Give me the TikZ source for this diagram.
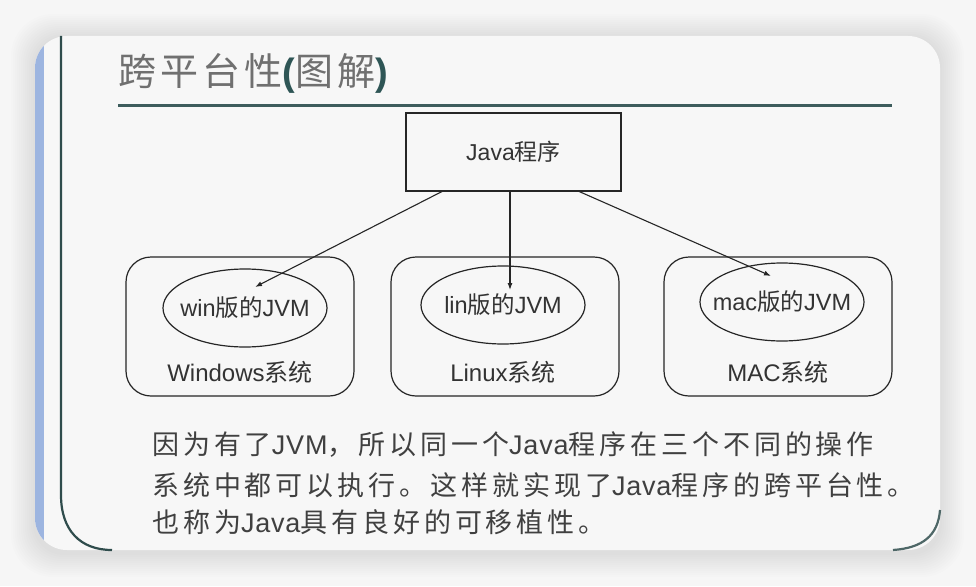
\documentclass[tikz,border=0pt]{standalone}
\usepackage{fontspec}
\setmainfont{Liberation Sans}
\newfontfamily\cjk{Noto Sans CJK SC}
\newfontfamily\cjkbody[LetterSpace=14.5]{Noto Sans CJK SC}
\newfontfamily\latbody[LetterSpace=3]{Liberation Sans}
\newfontfamily\cjktitle[LetterSpace=11]{Noto Sans CJK SC}
\newfontfamily\latin{Liberation Sans}
\usetikzlibrary{shapes.geometric,arrows.meta}
\definecolor{bgcol}{HTML}{F6F6F6}
\definecolor{cardcol}{HTML}{F7F7F7}
\definecolor{stripcol}{HTML}{9DB5E0}
\definecolor{edgecol}{HTML}{2F4C4C}
\definecolor{rulecol}{HTML}{3D5C5C}
\definecolor{titlecol}{HTML}{707070}
\definecolor{parcol}{HTML}{2E5555}
\definecolor{linecol}{HTML}{262626}
\definecolor{textcol}{HTML}{333333}
\definecolor{bodycol}{HTML}{404040}
\newcommand{\zh}[1]{{\cjk #1}}
\newcommand{\zb}[1]{{\cjkbody #1}}
\tikzset{
  progbox/.style={draw=linecol, line width=1.2pt, minimum width=215pt, minimum height=78pt, inner sep=0pt, text=textcol, font=\fontsize{23}{26}\selectfont},
  osbox/.style={draw=linecol, line width=1.2pt, rounded corners=25pt, minimum width=228pt, minimum height=139pt, inner sep=0pt},
  jvm/.style={draw=linecol, line width=1.2pt, ellipse, minimum width=164pt, minimum height=78pt, inner sep=0pt, text=textcol, font=\fontsize{23.5}{26}\selectfont},
  oslabel/.style={inner sep=0pt, text=textcol, font=\fontsize{24}{27}\selectfont},
  bodyline/.style={anchor=west, inner sep=0pt, text=bodycol, font=\fontsize{27}{31}\selectfont\latbody},
  arr/.style={draw=linecol, line width=1.1pt, -{Latex[length=7pt,width=5pt]}},
}
\begin{document}
\begin{tikzpicture}[x=1pt,y=-1pt]
\useasboundingbox (0,0) rectangle (976,586);
\fill[bgcol] (0,0) rectangle (976,586);
% shadow
\foreach \i in {1,...,12}{
  \fill[black, opacity=0.007, rounded corners={30pt+\i pt}] (35-2*\i,36-2*\i+2) rectangle (940+2*\i,550+2*\i+3);
}
% card
\fill[cardcol, rounded corners=32pt] (35,36) rectangle (940,550);
\begin{scope}
  \clip[rounded corners=32pt] (35,36) rectangle (940,550);
  \fill[stripcol] (35,36) rectangle (44,550);
\end{scope}
\draw[edgecol, line width=2.2pt] (61,36) -- (61,495) .. controls (61,530) and (80,550) .. (112,550);
\draw[edgecol!85, line width=2.2pt] (940,510) .. controls (938,536) and (922,548) .. (893,550);
% title
\node[anchor=west, inner sep=0pt, text=titlecol, font=\fontsize{38}{42}\selectfont] (title) at (118,73)
  {\cjktitle 跨平台性{\latin\bfseries\color{parcol}(}图解{\latin\bfseries\color{parcol})}};
\draw[rulecol, line width=3pt] (118,105) -- (892,105);
% Java program
\node[progbox] (prog) at (513.5,152) {Java\zh{程序}};
% OS boxes
\node[osbox] (win) at (240,326.5) {};
\node[osbox] (lin) at (505,326.5) {};
\node[osbox] (mac) at (778,326.5) {};
% JVMs
\node[jvm] (wjvm) at (245,308) {\makebox[0pt]{win\zh{版的}JVM}};
\node[jvm] (ljvm) at (503,305) {\makebox[0pt]{lin\zh{版的}JVM}};
\node[jvm] (mjvm) at (782,302) {\makebox[0pt]{mac\zh{版的}JVM}};
% OS labels
\node[oslabel] (wlab) at (240,372) {Windows\zh{系统}};
\node[oslabel] (llab) at (503,372) {Linux\zh{系统}};
\node[oslabel] (mlab) at (778,372) {MAC\zh{系统}};
% arrows
\coordinate (s1) at (443,191);
\coordinate (s2) at (510,191);
\coordinate (s3) at (578,191);
\coordinate (e1) at (255,287);
\coordinate (e2) at (510,290);
\coordinate (e3) at (771,276);
\draw[arr] (s1) -- (e1);
\draw[arr] (s2) -- (e2);
\draw[arr] (s3) -- (e3);
% body text
\node[bodyline] (b1) at (152,445) {\zb{因为有了}JVM\zb{，所以同一个}Java\zb{程序在三个不同的操作}};
\node[bodyline] (b2) at (152,485) {\zb{系统中都可以执行。这样就实现了}Java\zb{程序的跨平台性。}};
\node[bodyline] (b3) at (152,522) {\zb{也称为}Java\zb{具有良好的可移植性。}};
\end{tikzpicture}
\end{document}
